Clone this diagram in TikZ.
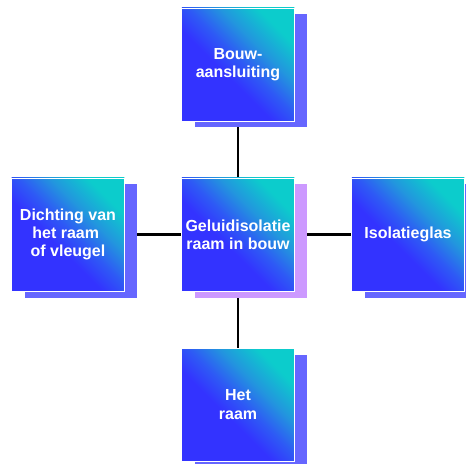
\documentclass[tikz,border=0pt]{standalone}
\usepackage{fontspec}
\setmainfont{Liberation Sans}
\usetikzlibrary{shadows,backgrounds}
\definecolor{gblue}{RGB}{51,51,255}
\definecolor{gblue2}{RGB}{46,90,245}
\definecolor{gmid}{RGB}{34,150,222}
\definecolor{gcyan}{RGB}{12,204,204}
\definecolor{shblue}{RGB}{102,102,255}
\definecolor{shpurple}{RGB}{204,153,255}
\pgfdeclarehorizontalshading{boxgrad}{100bp}{color(0bp)=(gblue); color(43bp)=(gblue); color(52bp)=(gblue2); color(62bp)=(gmid); color(74bp)=(gcyan); color(100bp)=(gcyan)}
\tikzset{
  card/.style={minimum width=112.5bp, minimum height=113bp, inner sep=0pt,
    shade, shading=boxgrad, shading angle=45, draw=white, line width=0.8bp,
    text=white, font=\fontsize{16bp}{18.3bp}\selectfont\bfseries, align=center},
  blueshadow/.style={drop shadow={shadow xshift=13bp, shadow yshift=-6.5bp, fill=shblue, opacity=1, draw=none}},
  purpleshadow/.style={drop shadow={shadow xshift=13bp, shadow yshift=-6.5bp, fill=shpurple, opacity=1, draw=none}},
  link/.style={line width=2.6bp, black}
}
\begin{document}
\begin{tikzpicture}[x=1bp, y=-1bp]
\useasboundingbox (0,0) rectangle (466,464);
\node[card, blueshadow] (top) at (238,64.5) {Bouw-\\aansluiting};
\node[card, purpleshadow] (center) at (238,234.5) {Geluidisolatie\\raam in bouw};
\node[card, blueshadow] (left) at (68,234.5) {Dichting van\\het raam~\mbox{}\\of vleugel};
\node[card, blueshadow] (right) at (408,234.5) {Isolatieglas};
\node[card, blueshadow] (bottom) at (238,404.7) {Het\\raam};
\begin{pgfonlayer}{background}
\draw[link] (top.south) -- (center.north);
\draw[link] (left.east) -- (center.west);
\draw[link] (center.east) -- (right.west);
\draw[link] (center.south) -- (bottom.north);
\end{pgfonlayer}
\end{tikzpicture}
\end{document}
